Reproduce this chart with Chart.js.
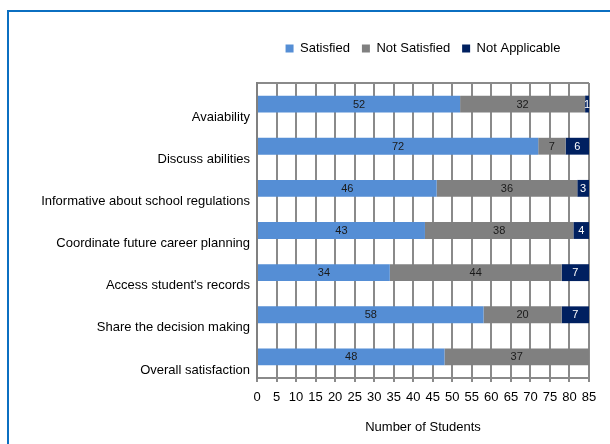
<!DOCTYPE html>
<html><head><meta charset="utf-8">
<script src="https://cdn.jsdelivr.net/npm/chart.js@4/dist/chart.umd.min.js"></script>
<style>
html,body{margin:0;padding:0;background:#fff;}
#wrap{position:relative;width:610px;height:444px;overflow:hidden;}
#frame{position:absolute;left:7px;top:10px;width:700px;height:600px;border-top:2px solid #0b6fc1;border-left:2px solid #0b6fc1;pointer-events:none;}
canvas{position:absolute;left:0;top:0;}
</style></head><body>
<div id="wrap"><canvas id="c" width="610" height="444"></canvas><div id="frame"></div></div>
<script>
const categories = ["Avaiability","Discuss abilities","Informative about school regulations","Coordinate future career planning","Access student's records","Share the decision making","Overall satisfaction"];
const seriesNames = ["Satisfied","Not Satisfied","Not Applicable"];
const satisfied = [52,72,46,43,34,58,48];
const notSatisfied = [32,7,36,38,44,20,37];
const notApplicable = [1,6,3,4,7,7,0];
const xTicks = [0,5,10,15,20,25,30,35,40,45,50,55,60,65,70,75,80,85];
const axisTitle = "Number of Students";

const FONT = '"Liberation Sans", Arial, sans-serif';
Chart.defaults.font.family = FONT;
Chart.defaults.font.size = 13;
Chart.defaults.color = '#000';

const valueLabels = {
  id: 'valueLabels',
  afterDatasetsDraw(chart) {
    const ctx = chart.ctx;
    ctx.save();
    ctx.font = '11px ' + FONT;
    ctx.textAlign = 'center';
    ctx.textBaseline = 'middle';
    chart.data.datasets.forEach((ds, i) => {
      const meta = chart.getDatasetMeta(i);
      meta.data.forEach((bar, j) => {
        const v = ds.data[j];
        if (!v) return;
        const p = bar.getCenterPoint();
        ctx.fillStyle = ds.labelColor;
        ctx.fillText(String(v), p.x, p.y + 0.5);
      });
    });
    ctx.restore();
  }
};

const legendGap = {
  id: 'legendGap',
  beforeInit(chart) {
    const orig = chart.legend.fit;
    chart.legend.fit = function () {
      orig.bind(chart.legend)();
      this.height += 18;
    };
  }
};

const gridColor = '#8a8a8a';

new Chart(document.getElementById('c'), {
  type: 'bar',
  data: {
    labels: categories,
    datasets: [
      { label: seriesNames[0], data: satisfied, backgroundColor: '#558ed5', labelColor: '#1a1a1a' },
      { label: seriesNames[1], data: notSatisfied, backgroundColor: '#808080', labelColor: '#1a1a1a' },
      { label: seriesNames[2], data: notApplicable, backgroundColor: '#002060', labelColor: '#ffffff' }
    ]
  },
  options: {
    indexAxis: 'y',
    responsive: false,
    animation: false,
    categoryPercentage: 0.8,
    barPercentage: 0.5,
    layout: { padding: { top: 30, right: 21, left: 0, bottom: 0 } },
    plugins: {
      legend: {
        position: 'top',
        fullSize: false,
        align: 'center',
        labels: { boxWidth: 8, boxHeight: 8, padding: 12, color: '#000', font: { size: 13 } }
      },
      tooltip: { enabled: false }
    },
    scales: {
      x: {
        stacked: true,
        min: xTicks[0],
        max: xTicks[xTicks.length - 1],
        afterBuildTicks(scale) { scale.ticks = xTicks.map(v => ({ value: v })); },
        afterFit(scale) { scale.height = 66; },
        ticks: { autoSkip: false, maxRotation: 0, padding: 8, color: '#000', font: { size: 13 } },
        grid: { color: gridColor, lineWidth: 2, drawTicks: true, tickLength: 4, tickColor: gridColor },
        border: { display: true, color: gridColor, width: 2 },
        title: { display: true, text: axisTitle, color: '#000', font: { size: 13 }, padding: { top: 0, bottom: 9 } }
      },
      y: {
        stacked: true,
        afterFit(scale) { scale.width = 257; },
        ticks: { padding: 7, labelOffset: 13, color: '#000', font: { size: 13 } },
        grid: {
          drawTicks: false,
          lineWidth: 2,
          color: (c) => c.index === 0 ? gridColor : 'rgba(0,0,0,0)'
        },
        border: { display: true, color: '#808080', width: 2 }
      }
    }
  },
  plugins: [valueLabels, legendGap]
});
</script>
</body></html>
